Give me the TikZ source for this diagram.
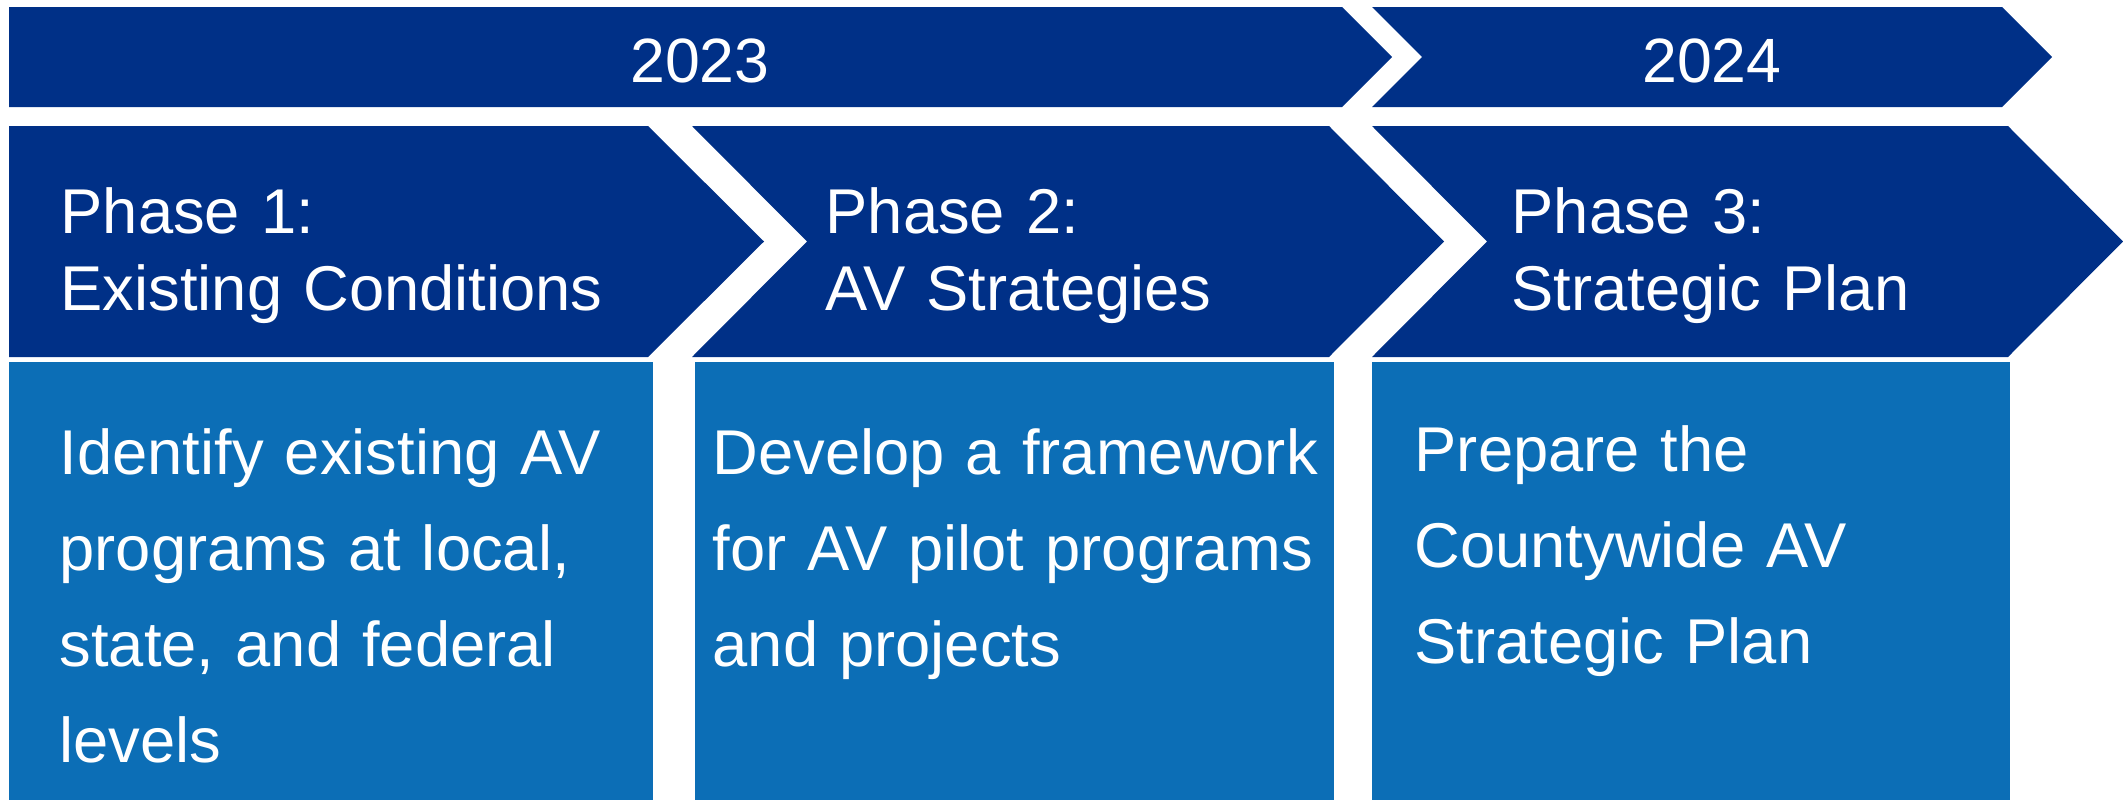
\documentclass[tikz,border=0pt]{standalone}
\usepackage{fontspec}
\setmainfont{Liberation Sans}
\definecolor{avnavy}{RGB}{0,48,135}
\definecolor{avblue}{RGB}{12,110,182}
\begin{document}
\begin{tikzpicture}[x=0.01cm, y=-0.01cm,
  navy/.style={fill=avnavy},
  light/.style={fill=avblue},
  yearlbl/.style={text=white, inner sep=0, anchor=base, font=\fontsize{17.8pt}{20pt}\selectfont},
  phaselbl/.style={text=white, inner sep=0, anchor=base west, text width=9cm, align=left, font=\fontsize{18pt}{21.9pt}\selectfont},
  desclbl/.style={text=white, inner sep=0, anchor=base west, text width=9cm, align=left, font=\fontsize{18pt}{27.3pt}\selectfont}]
\useasboundingbox (0,0) rectangle (2123,800);
\fill[navy] (9,7) -- (1342,7) -- (1392,57) -- (1342,107) -- (9,107) -- cycle;
\fill[navy] (1372,7) -- (2002,7) -- (2052,57) -- (2002,107) -- (1372,107) -- (1422,57) -- cycle;
\node[yearlbl] (y2023) at (700,83) {2023};
\node[yearlbl] (y2024) at (1712,83) {2024};

\fill[navy] (9,126) -- (648,126) -- (764,241.5) -- (648,357) -- (9,357) -- cycle;
\fill[navy] (692,126) -- (1329,126) -- (1444,241.5) -- (1329,357) -- (692,357) -- (807,241.5) -- cycle;
\fill[navy] (1372,126) -- (2008,126) -- (2123,241.5) -- (2008,357) -- (1372,357) -- (1487,241.5) -- cycle;
\node[phaselbl] (ph1) at (60,233) {Phase 1:\\Existing Conditions};
\node[phaselbl] (ph2) at (825,233) {Phase 2:\\AV Strategies};
\node[phaselbl] (ph3) at (1511,233) {Phase 3:\\Strategic Plan};

\fill[light] (9,362) rectangle (653,800);
\fill[light] (695,362) rectangle (1334,800);
\fill[light] (1372,362) rectangle (2010,800);
\node[desclbl] (d1) at (59,474) {Identify existing AV\\programs at local,\\state, and federal\\levels};
\node[desclbl] (d2) at (712,474) {Develop a framework\\for AV pilot programs\\and projects};
\node[desclbl] (d3) at (1414,471) {Prepare the\\Countywide AV\\Strategic Plan};

\end{tikzpicture}
\end{document}
